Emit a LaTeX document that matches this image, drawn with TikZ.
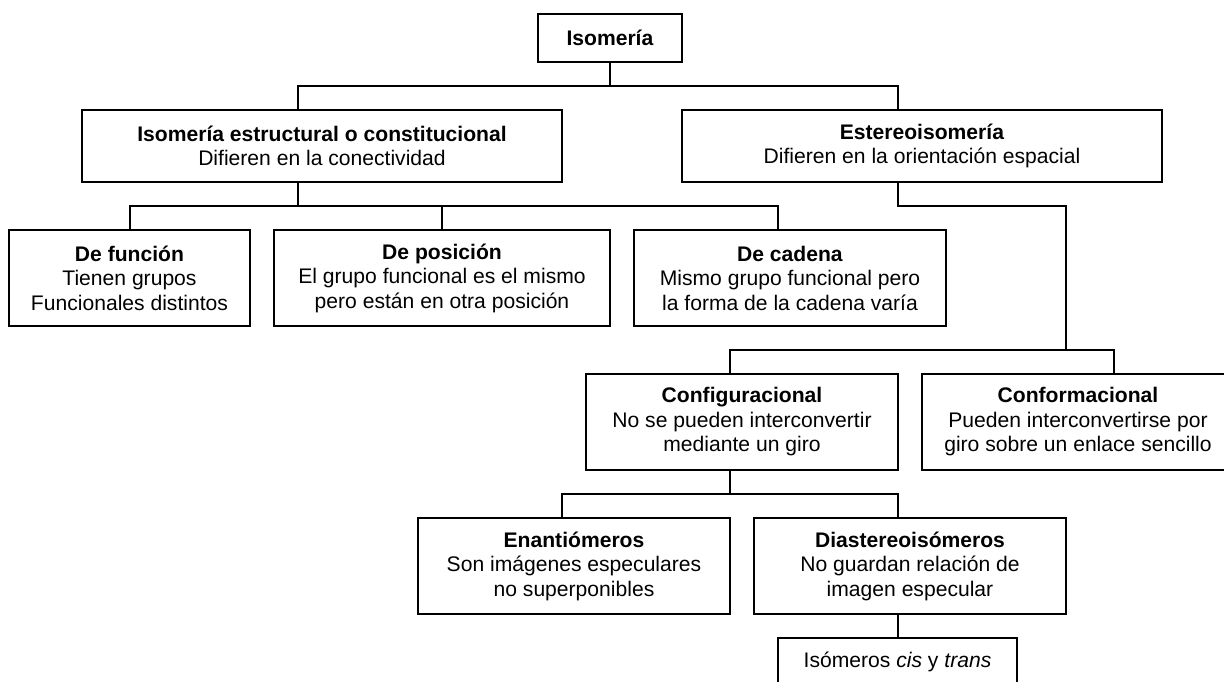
\documentclass[tikz,border=0pt]{standalone}
\usepackage{fontspec}
\setmainfont{Liberation Sans}
\newcommand{\boxfont}{\fontsize{21.1}{24.5}\selectfont}
\tikzset{
  box/.style 2 args={draw=black, line width=1.6pt, minimum width=#1pt, minimum height=#2pt,
    inner sep=0pt, align=center, font=\boxfont, text=black},
  link/.style={draw=black, line width=1.6pt, line cap=rect}
}
\begin{document}
\begin{tikzpicture}[x=1pt,y=-1pt]
\fill[white] (0,0) rectangle (1224,681);
\useasboundingbox (0,0) rectangle (1224,681);

% nodes
\node[box={144}{48}] (iso) at (610,38) {\textbf{Isomería}};
\node[box={480}{72}] (estr) at (322,146) {\textbf{Isomería estructural o constitucional}\\Difieren en la conectividad};
\node[box={480}{72}] (ester) at (922,146) {\textbf{Estereoisomería}\\Difieren en la orientación espacial};
\node[box={241}{96}] (func) at (129.5,278) {\textbf{De función}\\Tienen grupos\\Funcionales distintos};
\node[box={336}{96}] (pos) at (442,278) {\textbf{De posición}\\El grupo funcional es el mismo\\pero están en otra posición};
\node[box={312}{96}] (cad) at (790,278) {\textbf{De cadena}\\Mismo grupo funcional pero\\la forma de la cadena varía};
\node[box={312}{96}] (conf) at (742,422) {\textbf{Configuracional}\\No se pueden interconvertir\\mediante un giro};
\node[box={312}{96}] (conform) at (1078,422) {\textbf{Conformacional}\\Pueden interconvertirse por\\giro sobre un enlace sencillo};
\node[box={312}{96}] (enan) at (574,566) {\textbf{Enantiómeros}\\Son imágenes especulares\\no superponibles};
\node[box={312}{96}] (diast) at (910,566) {\textbf{Diastereoisómeros}\\No guardan relación de\\imagen especular};
\node[box={239}{48}] (cis) at (897.5,662) {Isómeros \textit{cis} y \textit{trans}};

% junction coordinates
\coordinate (j1) at (610,86);
\coordinate (j1a) at (298,86);
\coordinate (j1b) at (898,86);
\coordinate (j2) at (298,206);
\coordinate (j2a) at (130,206);
\coordinate (j2b) at (442,206);
\coordinate (j2c) at (778,206);
\coordinate (j3) at (898,206);
\coordinate (j3a) at (1066,206);
\coordinate (j3b) at (1066,350);
\coordinate (j3c) at (730,350);
\coordinate (j3d) at (1114,350);
\coordinate (j4) at (730,494);
\coordinate (j4a) at (562,494);
\coordinate (j4b) at (898,494);

% connectors
\draw[link] (iso.south) -- (j1);
\draw[link] (j1a |- estr.north) -- (j1a) -- (j1b) -- (j1b |- ester.north);

\draw[link] (j2 |- estr.south) -- (j2);
\draw[link] (j2a |- func.north) -- (j2a) -- (j2c) -- (j2c |- cad.north);
\draw[link] (j2b) -- (j2b |- pos.north);

\draw[link] (j3 |- ester.south) -- (j3) -- (j3a) -- (j3b);
\draw[link] (j3c |- conf.north) -- (j3c) -- (j3d) -- (j3d |- conform.north);

\draw[link] (j4 |- conf.south) -- (j4);
\draw[link] (j4a |- enan.north) -- (j4a) -- (j4b) -- (j4b |- diast.north);

\draw[link] (j4b |- diast.south) -- (j4b |- cis.north);
\end{tikzpicture}
\end{document}
